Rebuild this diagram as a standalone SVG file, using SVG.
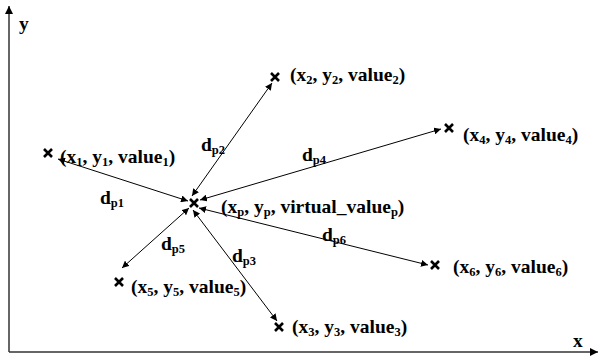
<svg xmlns="http://www.w3.org/2000/svg" width="600" height="356" viewBox="0 0 600 356">
<defs>
<marker id="ah" viewBox="0 0 10 10" refX="10" refY="5" markerWidth="7" markerHeight="7" markerUnits="userSpaceOnUse" orient="auto-start-reverse">
<path d="M0,0 L10,5 L0,10 z" fill="#000"/>
</marker>
<marker id="axh" viewBox="0 0 10 10" refX="10" refY="5" markerWidth="8" markerHeight="8" markerUnits="userSpaceOnUse" orient="auto">
<path d="M0,0 L10,5 L0,10 z" fill="#000"/>
</marker>
<path id="xm" d="M-4,-4 L4,4 M-4,4 L4,-4"/>
</defs>
<style>
text{font-family:"Liberation Serif","Times New Roman",serif;font-weight:bold;font-size:19.5px;fill:#000}
.s{font-size:12.5px}
.c{stroke:#000;stroke-width:1;fill:none}
.mk{stroke:#000;stroke-width:2.6;fill:none}
.ax{stroke:#333;stroke-width:1.5;fill:none}
</style>
<rect width="600" height="356" fill="#fff"/>
<g id="axes">
<line class="ax" x1="9" y1="352" x2="9" y2="6" marker-end="url(#axh)"/>
<line class="ax" x1="9" y1="352" x2="598" y2="352" marker-end="url(#axh)"/>
<text x="19" y="30" font-size="21">y</text>
<text x="573" y="347" font-size="21">x</text>
</g>
<g id="connectors">
<line class="c" x1="58" y1="159" x2="188" y2="201" marker-start="url(#ah)" marker-end="url(#ah)"/>
<line class="c" x1="192" y1="196" x2="272" y2="83" marker-start="url(#ah)" marker-end="url(#ah)"/>
<line class="c" x1="200" y1="200" x2="441" y2="129" marker-start="url(#ah)" marker-end="url(#ah)"/>
<line class="c" x1="199" y1="208" x2="428" y2="265" marker-start="url(#ah)" marker-end="url(#ah)"/>
<line class="c" x1="189" y1="208" x2="122" y2="268" marker-start="url(#ah)" marker-end="url(#ah)"/>
<line class="c" x1="193" y1="210" x2="277" y2="321" marker-start="url(#ah)" marker-end="url(#ah)"/>
<text x="100" y="204">d<tspan class="s" dy="3">p1</tspan></text>
<text x="201" y="151">d<tspan class="s" dy="3">p2</tspan></text>
<text x="302" y="161">d<tspan class="s" dy="3">p4</tspan></text>
<text x="161" y="250">d<tspan class="s" dy="3">p5</tspan></text>
<text x="232" y="262">d<tspan class="s" dy="3">p3</tspan></text>
<text x="322" y="241">d<tspan class="s" dy="3">p6</tspan></text>
</g>
<g id="p1"><use href="#xm" class="mk" x="48" y="153"/><text x="60" y="163">(x<tspan class="s" dy="3">1</tspan><tspan dy="-3">, y</tspan><tspan class="s" dy="3">1</tspan><tspan dy="-3">, value</tspan><tspan class="s" dy="3">1</tspan><tspan dy="-3">)</tspan></text></g>
<g id="p2"><use href="#xm" class="mk" x="275" y="77"/><text x="290" y="81">(x<tspan class="s" dy="3">2</tspan><tspan dy="-3">, y</tspan><tspan class="s" dy="3">2</tspan><tspan dy="-3">, value</tspan><tspan class="s" dy="3">2</tspan><tspan dy="-3">)</tspan></text></g>
<g id="p4"><use href="#xm" class="mk" x="449" y="128"/><text x="463" y="141">(x<tspan class="s" dy="3">4</tspan><tspan dy="-3">, y</tspan><tspan class="s" dy="3">4</tspan><tspan dy="-3">, value</tspan><tspan class="s" dy="3">4</tspan><tspan dy="-3">)</tspan></text></g>
<g id="pp"><use href="#xm" class="mk" x="194" y="203"/><text x="221" y="213">(x<tspan class="s" dy="3">p</tspan><tspan dy="-3">, y</tspan><tspan class="s" dy="3">p</tspan><tspan dy="-3">, virtual_value</tspan><tspan class="s" dy="3">p</tspan><tspan dy="-3">)</tspan></text></g>
<g id="p6"><use href="#xm" class="mk" x="435" y="265"/><text x="453" y="273">(x<tspan class="s" dy="3">6</tspan><tspan dy="-3">, y</tspan><tspan class="s" dy="3">6</tspan><tspan dy="-3">, value</tspan><tspan class="s" dy="3">6</tspan><tspan dy="-3">)</tspan></text></g>
<g id="p5"><use href="#xm" class="mk" x="119" y="282"/><text x="131" y="293">(x<tspan class="s" dy="3">5</tspan><tspan dy="-3">, y</tspan><tspan class="s" dy="3">5</tspan><tspan dy="-3">, value</tspan><tspan class="s" dy="3">5</tspan><tspan dy="-3">)</tspan></text></g>
<g id="p3"><use href="#xm" class="mk" x="279" y="327"/><text x="292" y="333">(x<tspan class="s" dy="3">3</tspan><tspan dy="-3">, y</tspan><tspan class="s" dy="3">3</tspan><tspan dy="-3">, value</tspan><tspan class="s" dy="3">3</tspan><tspan dy="-3">)</tspan></text></g>
</svg>
